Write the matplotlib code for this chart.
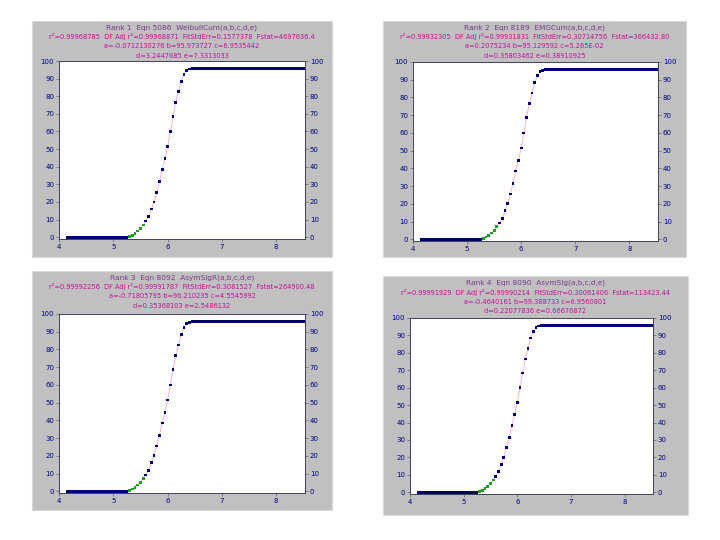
import numpy as np
import matplotlib.pyplot as plt
from matplotlib.patches import Rectangle

# measured points, x = 4.15 .. 8.50 in steps of 0.05
X_VALUES = [4.15, 4.20, 4.25, 4.30, 4.35, 4.40, 4.45, 4.50, 4.55, 4.60,
            4.65, 4.70, 4.75, 4.80, 4.85, 4.90, 4.95, 5.00, 5.05, 5.10,
            5.15, 5.20, 5.25, 5.30, 5.35, 5.40, 5.45, 5.50, 5.55, 5.60,
            5.65, 5.70, 5.75, 5.80, 5.85, 5.90, 5.95, 6.00, 6.05, 6.10,
            6.15, 6.20, 6.25, 6.30, 6.35, 6.40, 6.45, 6.50, 6.55, 6.60,
            6.65, 6.70, 6.75, 6.80, 6.85, 6.90, 6.95, 7.00, 7.05, 7.10,
            7.15, 7.20, 7.25, 7.30, 7.35, 7.40, 7.45, 7.50, 7.55, 7.60,
            7.65, 7.70, 7.75, 7.80, 7.85, 7.90, 7.95, 8.00, 8.05, 8.10,
            8.15, 8.20, 8.25, 8.30, 8.35, 8.40, 8.45, 8.50]
Y_VALUES = [0.0] * 23 + [
    0.3, 1.2, 2.3, 3.5, 5.0, 7.0, 9.2, 11.8, 16.0, 20.0,
    25.5, 31.5, 38.5, 44.5, 51.5, 60.0, 68.5, 76.5, 82.5, 88.5,
    92.3, 94.5, 95.4, 95.8, 95.9] + [95.9] * 40

TITLES = [
    ["Rank 1  Eqn 5086  WeibullCum(a,b,c,d,e)",
     "r²=0.99968785  DF Adj r²=0.99968871  FitStdErr=0.1577378  Fstat=4697636.4",
     "a=-0.0712130276 b=95.973727 c=6.9535442",
     "d=3.2447685 e=7.3313033"],
    ["Rank 2  Eqn 8189  EMGCum(a,b,c,d,e)",
     "r²=0.99932305  DF Adj r²=0.99931831  FitStdErr=0.30714756  Fstat=366432.80",
     "a=0.2075234 b=95.129592 c=5.265E-02",
     "d=0.35803462 e=0.38910925"],
    ["Rank 3  Eqn 8092  AsymSigR(a,b,c,d,e)",
     "r²=0.99992256  DF Adj r²=0.99991787  FitStdErr=0.3081527  Fstat=264900.48",
     "a=-0.71805795 b=96.210235 c=4.5545992",
     "d=0.35368103 e=2.5486132"],
    ["Rank 4  Eqn 8090  AsymSig(a,b,c,d,e)",
     "r²=0.99991929  DF Adj r²=0.99990214  FitStdErr=0.30061406  Fstat=113423.44",
     "a=-0.4640161 b=99.388733 c=6.9560801",
     "d=0.22077836 e=0.66676872"],
]
X_TICKS = [4, 5, 6, 7, 8]
Y_TICKS = [0, 10, 20, 30, 40, 50, 60, 70, 80, 90, 100]

# panel boxes and plot areas in pixels (left, top, right, bottom)
BOXES = [(32, 21, 332, 257), (383, 21, 686, 257),
         (32, 271, 332, 510), (383, 276, 688, 515)]
PLOTS = [(59, 61, 305, 239), (413, 62, 658, 241),
         (59, 314, 305, 493), (410, 318, 653, 494)]

W, H = 720, 540
fig = plt.figure(figsize=(7.2, 5.4), dpi=100)
fig.patch.set_facecolor("white")


def fig_rect(l, t, r, b):
    return [l / W, 1 - b / H, (r - l) / W, (b - t) / H]


x = np.array(X_VALUES)
y = np.array(Y_VALUES)
colors = ["#20a020" if 0 < v < 9 else "#000070" for v in y]

# grey panel backgrounds go in one axes at the very back
bg = fig.add_axes([0, 0, 1, 1], zorder=-5)
bg.set_xlim(0, W)
bg.set_ylim(H, 0)
bg.axis("off")

for box, area, title in zip(BOXES, PLOTS, TITLES):
    l, t, r, b = box
    bg.add_patch(Rectangle((l, t), r - l, b - t, facecolor="#c0c0c0",
                           edgecolor="#d8d8d8", lw=0.8))
    cx = (l + r) / 2 / W
    for i, line in enumerate(title):
        fig.text(cx, 1 - (t + 6.5 + i * 9.5) / H, line, ha="center", va="center",
                 fontsize=5.3 if i == 0 else 4.8,
                 color="#7a3a8a" if i == 0 else "#c0109a")

    ax = fig.add_axes(fig_rect(*area))
    ax.set_facecolor("white")
    ax.plot(x, y, color="#f0a8c8", lw=0.6, zorder=1)
    ax.scatter(x, y, s=4, c=colors, marker="s", lw=0, zorder=2)
    ax.set_xlim(4.0, 8.53)
    ax.set_ylim(-1, 100)
    ax.set_xticks(X_TICKS)
    ax.set_yticks(Y_TICKS)
    ax.tick_params(labelsize=5, colors="#606060", labelcolor="#000080",
                   length=2, width=0.5, pad=1.5)
    for s in ax.spines.values():
        s.set_color("#404060")
        s.set_linewidth(0.6)
    ax2 = ax.twinx()
    ax2.set_ylim(-1, 100)
    ax2.set_yticks(Y_TICKS)
    ax2.tick_params(labelsize=5, colors="#606060", labelcolor="#000080",
                    length=2, width=0.5, pad=1.5)
    for s in ax2.spines.values():
        s.set_color("#404060")
        s.set_linewidth(0.6)

fig.savefig("out.png", dpi=100)
